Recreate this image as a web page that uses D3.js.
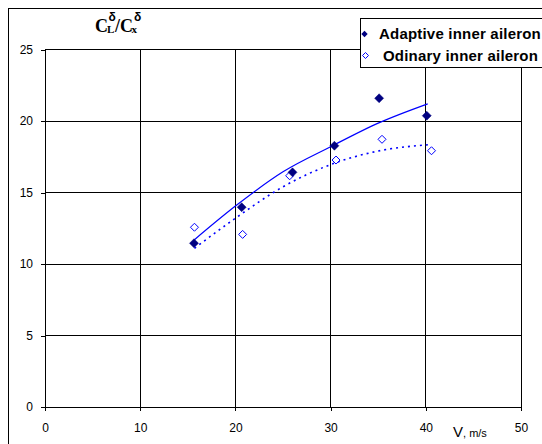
<!DOCTYPE html>
<html>
<head>
<meta charset="utf-8">
<script src="https://cdn.jsdelivr.net/npm/d3@7"></script>
<style>
  body { margin: 0; background: #fff; }
  svg { display: block; }
  .axis text { font-family: Arial, "Liberation Sans", sans-serif; font-size: 12px; fill: #000; }
  .axis path, .axis line { stroke: #000; shape-rendering: crispEdges; }
  line.grid { stroke: #000; shape-rendering: crispEdges; }
  .legend text { font-family: Arial, "Liberation Sans", sans-serif; font-size: 15px; font-weight: bold; letter-spacing: 0.2px; }
</style>
</head>
<body>
<div id="chart"></div>
<script>
// Measured points (V, m/s vs C_L^d/C_x^d)
const vAdaptive = [15.65, 20.66, 26.0, 30.4, 35.1, 40.1];
const kAdaptive = [11.45, 13.97, 16.41, 18.27, 21.59, 20.37];
const vOrdinary = [15.7, 20.76, 25.7, 30.57, 35.4, 40.6];
const kOrdinary = [12.57, 12.07, 16.17, 17.27, 18.72, 17.92];

// Trend lines
const vTrendAdaptive = [15.7, 20, 25, 30, 35, 40.2];
const kTrendAdaptive = [11.7, 14.05, 16.45, 18.2, 19.85, 21.2];
const vTrendOrdinary = [15.7, 20, 25, 30, 35, 40.5];
const kTrendOrdinary = [11.1, 13.2, 15.4, 16.95, 17.9, 18.35];

const xTicks = [0, 10, 20, 30, 40, 50];
const yTicks = [0, 5, 10, 15, 20, 25];
const legendLabels = ['Adaptive inner aileron', 'Odinary inner aileron'];

const adaptiveColor = '#000080';
const ordinaryColor = '#0000ff';
const lineColor = '#0000ff';

let margin = {top: 49.5, left: 45},
    width = 476,
    height = 357.5;

let scX = d3.scaleLinear().domain([0, 50]).range([0, width]);
let scY = d3.scaleLinear().domain([0, 25]).range([height, 0]);

let svg = d3.select('#chart')
  .append('svg')
    .attr('width', 542)
    .attr('height', 444);

// Outer chart frame (runs off the right and bottom edges)
svg.append('rect')
  .attr('x', 8.5).attr('y', 8.5)
  .attr('width', 600).attr('height', 500)
  .attr('fill', 'none').attr('stroke', '#000');

let g = svg.append('g')
  .attr('transform', `translate(${margin.left},${margin.top})`);

// Gridlines
g.selectAll('line.gy')
  .data(yTicks.filter(d => d > 0))
  .enter().append('line')
    .attr('class', 'grid gy')
    .attr('x1', 0).attr('x2', width)
    .attr('y1', d => scY(d)).attr('y2', d => scY(d));
g.selectAll('line.gx')
  .data(xTicks.filter(d => d > 0))
  .enter().append('line')
    .attr('class', 'grid gx')
    .attr('x1', d => scX(d)).attr('x2', d => scX(d))
    .attr('y1', 0).attr('y2', height);

// Axes
g.append('g')
  .attr('class', 'axis')
  .attr('transform', `translate(0,${height})`)
  .call(d3.axisBottom(scX).tickValues(xTicks).tickSizeInner(4).tickSizeOuter(0).tickPadding(12));
g.append('g')
  .attr('class', 'axis')
  .call(d3.axisLeft(scY).tickValues(yTicks).tickSizeInner(4).tickSizeOuter(0).tickPadding(8));

// Trend lines
let line = d3.line()
  .curve(d3.curveMonotoneX)
  .x(d => scX(d[0]))
  .y(d => scY(d[1]));

g.append('path')
  .attr('d', line(d3.zip(vTrendAdaptive, kTrendAdaptive)))
  .attr('fill', 'none')
  .attr('stroke', lineColor)
  .attr('stroke-width', 1.2);
g.append('path')
  .attr('d', line(d3.zip(vTrendOrdinary, kTrendOrdinary)))
  .attr('fill', 'none')
  .attr('stroke', lineColor)
  .attr('stroke-width', 1.6)
  .attr('stroke-dasharray', '2,4');

// Diamond marker path
function diamond(r) {
  return `M0,${-r}L${r},0L0,${r}L${-r},0Z`;
}

g.selectAll('path.ord')
  .data(d3.zip(vOrdinary, kOrdinary))
  .enter().append('path')
    .attr('class', 'ord')
    .attr('d', diamond(4))
    .attr('transform', d => `translate(${scX(d[0])},${scY(d[1])})`)
    .attr('fill', '#fff')
    .attr('stroke', ordinaryColor)
    .attr('stroke-width', 1);

g.selectAll('path.adp')
  .data(d3.zip(vAdaptive, kAdaptive))
  .enter().append('path')
    .attr('class', 'adp')
    .attr('d', diamond(4.5))
    .attr('transform', d => `translate(${scX(d[0])},${scY(d[1])})`)
    .attr('fill', adaptiveColor)
    .attr('stroke', adaptiveColor)
    .attr('stroke-width', 0.5);

// Y title: C_L^delta / C_x^delta
let title = svg.append('text')
  .attr('font-family', '"Times New Roman", "Liberation Serif", serif')
  .attr('font-weight', 'bold');
title.append('tspan').attr('x', 95).attr('y', 32).attr('font-size', 18).text('C');
title.append('tspan').attr('x', 107).attr('y', 33).attr('font-size', 11).text('L');
title.append('tspan').attr('x', 108.5).attr('y', 20.5).attr('font-size', 12)
  .attr('font-family', 'Arial, "Liberation Sans", sans-serif').text('δ');
title.append('tspan').attr('x', 115).attr('y', 32).attr('font-size', 18).text('/C');
title.append('tspan').attr('x', 131.5).attr('y', 33).attr('font-size', 11).text('x');
title.append('tspan').attr('x', 134).attr('y', 20.5).attr('font-size', 12)
  .attr('font-family', 'Arial, "Liberation Sans", sans-serif').text('δ');

// X title
let xTitle = svg.append('text')
  .attr('font-family', 'Arial, "Liberation Sans", sans-serif')
  .attr('x', 453).attr('y', 437);
xTitle.append('tspan').attr('font-size', 15).text('V');
xTitle.append('tspan').attr('font-size', 11).text(', m/s');

// Legend
let legend = svg.append('g').attr('class', 'legend');
legend.append('rect')
  .attr('x', 360.5).attr('y', 18.5)
  .attr('width', 220).attr('height', 49)
  .attr('fill', '#fff').attr('stroke', '#000');
legend.append('path')
  .attr('d', diamond(3.2))
  .attr('transform', 'translate(364.5,34)')
  .attr('fill', adaptiveColor);
legend.append('path')
  .attr('d', diamond(3))
  .attr('transform', 'translate(365.5,55.5)')
  .attr('fill', '#fff').attr('stroke', ordinaryColor);
legend.selectAll('text')
  .data(legendLabels)
  .enter().append('text')
    .attr('x', (d, i) => i === 0 ? 379 : 383)
    .attr('y', (d, i) => i === 0 ? 39 : 61)
    .text(d => d);
</script>
</body>
</html>
